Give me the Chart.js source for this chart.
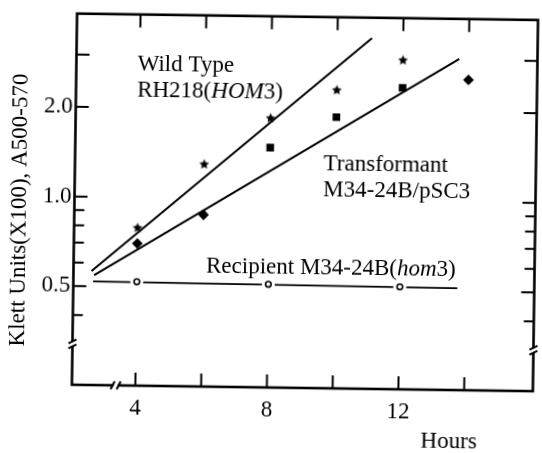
<!DOCTYPE html>
<html>
<head>
<meta charset="utf-8">
<script src="https://cdn.jsdelivr.net/npm/chart.js@4.4.1/dist/chart.umd.min.js"></script>
<style>
  html, body { margin: 0; padding: 0; background: #fff; }
  /* the printed figure sits slightly skewed on the scan */
  #wrap { width: 542px; height: 453px; transform: rotate(0.8deg); transform-origin: 306px 200px; }
</style>
</head>
<body>
<div id="wrap"><canvas id="chart" width="542" height="453"></canvas></div>
<script>
// measured points
const wildTypeHours = [4, 6, 8, 10, 12];
const wildTypeValues = [0.79, 1.30, 1.87, 2.34, 2.97];
const transformantHours = [4, 6, 8, 10, 12, 14];
const transformantValues = [0.70, 0.88, 1.49, 1.90, 2.40, 2.57];
const transformantShapes = ['rectRot', 'rectRot', 'rect', 'rect', 'rect', 'rectRot'];
const recipientHours = [4, 8, 12];
const recipientValues = [0.521, 0.518, 0.515];

// drawn growth lines (end points)
const wildTypeLineHours = [2.62, 11.05];
const wildTypeLineValues = [0.563, 3.515];
const transformantLineHours = [2.70, 13.71];
const transformantLineValues = [0.545, 3.02];
const recipientLineHours = [2.67, 13.75];
const recipientLineValues = [0.52, 0.513];

// axes
const hourTickMarks = [4, 6, 8, 10, 12, 14];
const hourTickLabels = [4, 8, 12];
const valueTickMarks = [0.4, 0.5, 0.6, 0.7, 0.8, 0.9, 1, 2, 3];
const valueTickLabels = [0.5, 1.0, 2.0];
const valueMajor = [0.5, 1, 2, 3];

const FONT = "'Liberation Serif', 'DejaVu Serif', serif";
const INK = '#000';

const pts = (xs, ys) => xs.map((x, i) => ({ x: x, y: ys[i] }));

function makeStar(r) {
    const c = document.createElement('canvas');
    const s = Math.ceil(r * 2 + 2);
    c.width = s;
    c.height = s;
    const g = c.getContext('2d');
    g.fillStyle = INK;
    g.translate(s / 2, s / 2);
    g.beginPath();
    for (let i = 0; i < 10; i++) {
        const rad = i % 2 ? r * 0.47 : r;
        const a = -Math.PI / 2 + i * Math.PI / 5;
        g.lineTo(rad * Math.cos(a), rad * Math.sin(a));
    }
    g.closePath();
    g.fill();
    return c;
}

const lineStyle = { borderColor: INK, borderWidth: 2, pointRadius: 0, fill: false, tension: 0, order: 3 };

// tick marks, frame and axis breaks
const framePlugin = {
    id: 'frame',
    afterDatasetsDraw(chart) {
        const { ctx, chartArea: a, scales: { x, y } } = chart;
        ctx.save();
        ctx.strokeStyle = INK;
        ctx.lineWidth = 2;
        valueTickMarks.forEach((v) => {
            const py = y.getPixelForValue(v);
            const len = valueMajor.includes(v) ? 13 : 10;
            ctx.beginPath();
            ctx.moveTo(a.left, py); ctx.lineTo(a.left + len, py);
            ctx.moveTo(a.right, py); ctx.lineTo(a.right - len, py);
            ctx.stroke();
        });
        hourTickMarks.forEach((h) => {
            const px = x.getPixelForValue(h);
            ctx.beginPath();
            ctx.moveTo(px, a.top); ctx.lineTo(px, a.top + 13);
            ctx.moveTo(px, a.bottom); ctx.lineTo(px, a.bottom - 13);
            ctx.stroke();
        });
        ctx.lineWidth = 2.6;
        ctx.strokeRect(a.left, a.top, a.right - a.left, a.bottom - a.top);

        // breaks
        const by = y.getPixelForValue(0.32);
        const bx = x.getPixelForValue(3.4);
        ctx.fillStyle = '#fff';
        ctx.fillRect(a.left - 3, by - 2, 6, 4);
        ctx.fillRect(a.right - 3, by - 2, 6, 4);
        ctx.fillRect(bx - 2, a.bottom - 3, 4, 6);
        ctx.lineWidth = 2;
        [a.left, a.right].forEach((ax) => {
            ctx.beginPath();
            ctx.moveTo(ax - 4, by - 0.5); ctx.lineTo(ax + 4, by - 4.5);
            ctx.moveTo(ax - 4, by + 4.5); ctx.lineTo(ax + 4, by + 0.5);
            ctx.stroke();
        });
        ctx.beginPath();
        ctx.moveTo(bx - 5, a.bottom + 4); ctx.lineTo(bx - 1, a.bottom - 4);
        ctx.moveTo(bx + 1, a.bottom + 4); ctx.lineTo(bx + 5, a.bottom - 4);
        ctx.stroke();
        ctx.restore();
    }
};

// curve names and axis titles, with italic gene names
const notesPlugin = {
    id: 'notes',
    afterDraw(chart) {
        const { ctx, scales: { x, y } } = chart;
        const size = 23;
        const put = (h, v, parts) => {
            let px = x.getPixelForValue(h);
            const py = y.getPixelForValue(v);
            parts.forEach(([t, it]) => {
                ctx.font = (it ? 'italic ' : '') + size + 'px ' + FONT;
                ctx.fillText(t, px, py);
                px += ctx.measureText(t).width;
            });
        };
        ctx.save();
        ctx.fillStyle = INK;
        ctx.textBaseline = 'alphabetic';
        ctx.textAlign = 'left';
        put(3.93, 2.66, [['Wild Type', false]]);
        put(3.93, 2.178, [['RH218(', false], ['HOM', true], ['3)', false]]);
        put(9.63, 1.259, [['Transformant', false]]);
        put(9.63, 1.026, [['M34-24B/pSC3', false]]);
        put(6.10, 0.5625, [['Recipient M34-24B(', false], ['hom', true], ['3)', false]]);

        ctx.textAlign = 'center';
        ctx.textBaseline = 'middle';
        ctx.font = size + 'px ' + FONT;
        ctx.fillText('Hours', x.getPixelForValue(13.55), 440);
        ctx.translate(20, 214);
        ctx.rotate(-Math.PI / 2);
        ctx.font = '23px ' + FONT;
        ctx.fillText('Klett Units(X100), A500-570', 0, 0);
        ctx.restore();
    }
};

new Chart(document.getElementById('chart'), {
    type: 'line',
    data: {
        datasets: [
            {
                data: pts(recipientHours, recipientValues), showLine: false, order: 1,
                pointRadius: 2.8, pointBorderWidth: 1.6, pointBackgroundColor: '#fff', pointBorderColor: INK
            },
            {
                data: pts(recipientHours, recipientValues), showLine: false, order: 2,
                pointRadius: 6.5, pointBorderWidth: 0, pointBackgroundColor: '#fff', pointBorderColor: '#fff'
            },
            {
                data: pts(wildTypeHours, wildTypeValues), showLine: false, order: 1,
                pointStyle: makeStar(5.2), pointRadius: 5
            },
            {
                data: pts(transformantHours, transformantValues), showLine: false, order: 1,
                pointStyle: transformantShapes, pointRadius: 5.4, pointBorderWidth: 0,
                pointBackgroundColor: INK, pointBorderColor: INK
            },
            { ...lineStyle, data: pts(wildTypeLineHours, wildTypeLineValues) },
            { ...lineStyle, data: pts(transformantLineHours, transformantLineValues) },
            { ...lineStyle, borderWidth: 1.8, data: pts(recipientLineHours, recipientLineValues) }
        ]
    },
    options: {
        responsive: false,
        animation: false,
        layout: { padding: { top: 13.5, right: 3.5, left: 0, bottom: 0 } },
        plugins: { legend: { display: false }, tooltip: { enabled: false } },
        scales: {
            x: {
                type: 'linear',
                min: 2.07,
                max: 16.09,
                grid: { display: false, drawTicks: false },
                border: { display: false },
                afterBuildTicks: (s) => { s.ticks = hourTickLabels.map((v) => ({ value: v })); },
                afterFit: (s) => { s.height = 65; },
                ticks: {
                    padding: 9,
                    maxRotation: 0,
                    autoSkip: false,
                    color: INK,
                    font: { family: FONT, size: 23 }
                }
            },
            y: {
                type: 'logarithmic',
                min: 0.2332,
                max: 4.115,
                grid: { display: false, drawTicks: false },
                border: { display: false },
                afterBuildTicks: (s) => { s.ticks = valueTickLabels.map((v) => ({ value: v })); },
                afterFit: (s) => { s.width = 74.5; },
                ticks: {
                    padding: 3,
                    autoSkip: false,
                    color: INK,
                    font: { family: FONT, size: 23 },
                    callback: (v) => Number(v).toFixed(1)
                }
            }
        }
    },
    plugins: [framePlugin, notesPlugin]
});
</script>
</body>
</html>
